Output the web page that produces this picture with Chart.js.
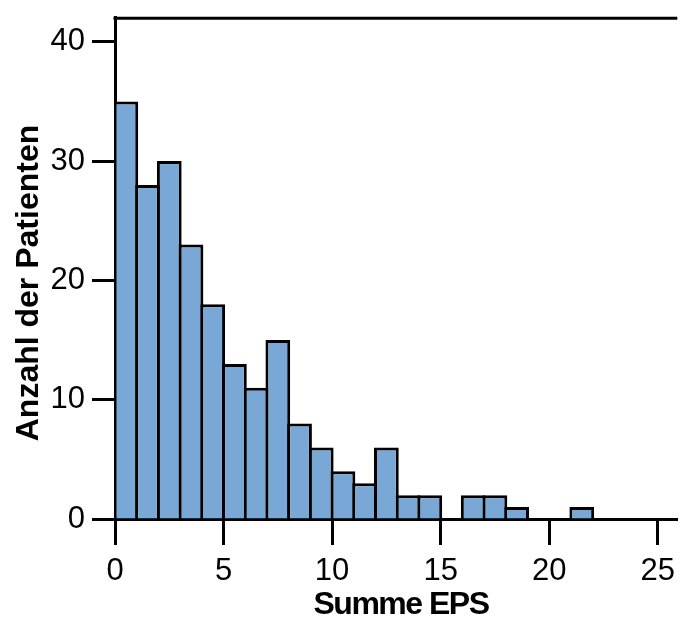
<!DOCTYPE html>
<html>
<head>
<meta charset="utf-8">
<script src="https://cdn.jsdelivr.net/npm/chart.js@4"></script>
<style>
  html, body { margin: 0; padding: 0; background: #fff; }
  #wrap { width: 683px; height: 630px; }
</style>
</head>
<body>
<div id="wrap"><canvas id="epsChart" width="683" height="630"></canvas></div>
<script>
// Histogramm: Summe EPS (Klassenbreite 1)
const binStarts = [0, 1, 2, 3, 4, 5, 6, 7, 8, 9, 10, 11, 12, 13, 14, 15, 16, 17, 18, 19, 20, 21];
const patientCounts = [35, 28, 30, 23, 18, 13, 11, 15, 8, 6, 4, 3, 6, 2, 2, 0, 2, 2, 1, 0, 0, 1];
const xTicks = [0, 5, 10, 15, 20, 25];
const yTicks = [0, 10, 20, 30, 40];
const xTitle = 'Summe EPS';
const yTitle = 'Anzahl der Patienten';

const FONT = "'Liberation Sans', Arial, Helvetica, sans-serif";

// Rahmen oben + Achsentitel selbst zeichnen
const framePlugin = {
  id: 'frame',
  afterDraw(chart) {
    const { ctx, chartArea } = chart;
    ctx.save();
    ctx.strokeStyle = '#000';
    ctx.lineWidth = 3;
    ctx.beginPath();
    ctx.moveTo(chartArea.left - 1.5, chartArea.top + 0.5);
    ctx.lineTo(chartArea.right, chartArea.top + 0.5);
    ctx.stroke();

    ctx.fillStyle = '#000';
    ctx.font = 'bold 32px ' + FONT;
    ctx.textAlign = 'center';
    ctx.textBaseline = 'alphabetic';
    ctx.letterSpacing = '-1.5px';
    ctx.fillText(xTitle, 401, 614);

    ctx.letterSpacing = '0px';
    ctx.translate(38, 283);
    ctx.rotate(-Math.PI / 2);
    ctx.fillText(yTitle, 0, 0);
    ctx.restore();
  }
};

const ctx = document.getElementById('epsChart').getContext('2d');
const epsChart = new Chart(ctx, {
  type: 'bar',
  data: {
    datasets: [{
      label: yTitle,
      data: binStarts.map((b, i) => ({ x: b + 0.5, y: patientCounts[i] })),
      backgroundColor: '#7aa8d6',
      borderColor: '#000',
      borderWidth: 3,
      borderSkipped: 'start',
      barPercentage: 1.14,
      categoryPercentage: 1
    }]
  },
  options: {
    responsive: false,
    animation: false,
    layout: { padding: { top: 12, right: 0, left: 0, bottom: 0 } },
    plugins: {
      legend: { display: false },
      tooltip: { enabled: false }
    },
    scales: {
      x: {
        type: 'linear',
        min: 0,
        max: 25.9,
        offset: false,
        afterFit: s => { s.height = 111; },
        afterBuildTicks: s => { s.ticks = xTicks.map(v => ({ value: v })); },
        border: { display: true, color: '#000', width: 3 },
        grid: { offset: false, drawOnChartArea: false, tickLength: 26, tickWidth: 3, tickColor: '#000' },
        ticks: { color: '#000', padding: 8, maxRotation: 0, font: { family: FONT, size: 31 } }
      },
      y: {
        min: 0,
        max: 42,
        afterFit: s => { s.width = 115; },
        afterBuildTicks: s => { s.ticks = yTicks.map(v => ({ value: v })); },
        border: { display: true, color: '#000', width: 3 },
        grid: { drawOnChartArea: false, tickLength: 23, tickWidth: 3, tickColor: '#000' },
        ticks: { color: '#000', padding: 7, font: { family: FONT, size: 31, lineHeight: 0.7 } }
      }
    }
  },
  plugins: [framePlugin]
});
</script>
</body>
</html>
